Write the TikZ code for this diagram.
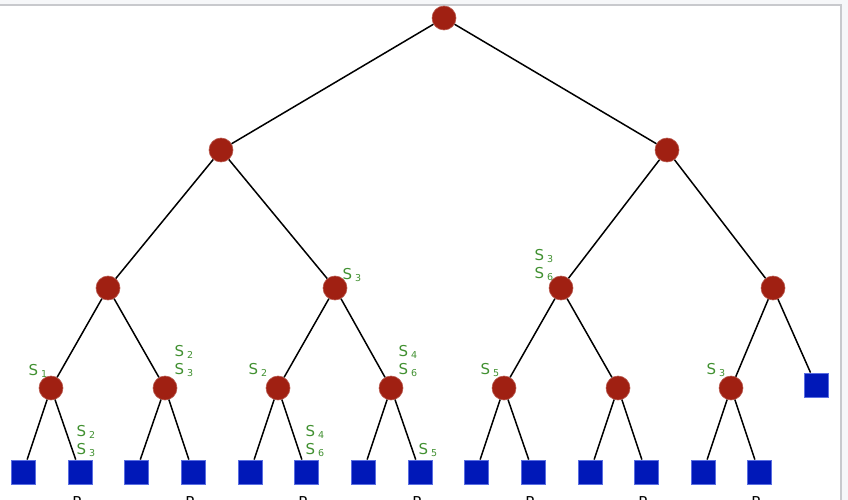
\documentclass[tikz,border=0pt]{standalone}
\usepackage{fontspec}
\setmainfont{DejaVu Sans}
\definecolor{nodered}{RGB}{160,32,18}
\definecolor{leafblue}{RGB}{0,24,184}
\definecolor{leafedge}{RGB}{90,110,225}
\definecolor{labgreen}{RGB}{66,145,50}
\definecolor{framegray}{RGB}{200,201,205}
\definecolor{pagegray}{RGB}{246,247,249}
\newcommand{\slab}[1]{S\hspace{3pt}\raisebox{-1.5pt}{\fontsize{9.5}{9.5}\selectfont #1}}

\begin{document}
\begin{tikzpicture}[x=1pt, y=-1pt,
    inner/.style={circle, fill=nodered, draw=nodered!75!white, line width=0.6pt, minimum size=24pt, inner sep=0pt},
    leaf/.style={rectangle, fill=leafblue, draw=leafedge, line width=0.8pt, minimum size=24pt, inner sep=0pt},
    edge/.style={line width=1.5pt},
    lbl/.style={text=labgreen, font=\fontsize{15}{15}\selectfont, align=left, inner sep=0pt}]

        \useasboundingbox (0,0) rectangle (848,500);
        \clip (0,0) rectangle (848,500);
        \fill[pagegray] (0,0) rectangle (848,500);
        \draw[framegray, fill=white, line width=2pt] (-10,5) rectangle (841,520);

        % inner nodes
        \node[inner] (r) at (444,18) {};
        \node[inner] (a) at (221,150) {};
        \node[inner] (b) at (667,150) {};
        \node[inner] (aa) at (108,288) {};
        \node[inner] (ab) at (335,288) {};
        \node[inner] (ba) at (561,288) {};
        \node[inner] (bb) at (773,288) {};
        \node[inner] (aaa) at (51,388) {};
        \node[inner] (aab) at (165,388) {};
        \node[inner] (aba) at (278,388) {};
        \node[inner] (abb) at (391,388) {};
        \node[inner] (baa) at (504,388) {};
        \node[inner] (bab) at (618,388) {};
        \node[inner] (bba) at (731,388) {};
        \node[leaf] (bbb) at (816,385) {};

        % leaves
        \node[leaf] (l1) at (23,472) {};
        \node[leaf] (l2) at (80,472) {};
        \node[leaf] (l3) at (136,472) {};
        \node[leaf] (l4) at (193,472) {};
        \node[leaf] (l5) at (250,472) {};
        \node[leaf] (l6) at (306,472) {};
        \node[leaf] (l7) at (363,472) {};
        \node[leaf] (l8) at (420,472) {};
        \node[leaf] (l9) at (476,472) {};
        \node[leaf] (l10) at (533,472) {};
        \node[leaf] (l11) at (590,472) {};
        \node[leaf] (l12) at (646,472) {};
        \node[leaf] (l13) at (703,472) {};
        \node[leaf] (l14) at (759,472) {};

        % edges
        \draw[edge] (r) -- (a) (r) -- (b);
        \draw[edge] (a) -- (aa) (a) -- (ab) (b) -- (ba) (b) -- (bb);
        \draw[edge] (aa) -- (aaa) (aa) -- (aab) (ab) -- (aba) (ab) -- (abb);
        \draw[edge] (ba) -- (baa) (ba) -- (bab) (bb) -- (bba) (bb) -- (bbb);
        \draw[edge] (aaa) -- (l1) (aaa) -- (l2) (aab) -- (l3) (aab) -- (l4);
        \draw[edge] (aba) -- (l5) (aba) -- (l6) (abb) -- (l7) (abb) -- (l8);
        \draw[edge] (baa) -- (l9) (baa) -- (l10) (bab) -- (l11) (bab) -- (l12);
        \draw[edge] (bba) -- (l13) (bba) -- (l14);

        % labels
        \node[lbl] (s1) at (38,371) {\slab{1}};
        \node[lbl] (s2) at (86,441) {\slab{2}\\[3pt]\slab{3}};
        \node[lbl] (s3) at (184,361) {\slab{2}\\[3pt]\slab{3}};
        \node[lbl] (s4) at (258,370) {\slab{2}};
        \node[lbl] (s5) at (315,441) {\slab{4}\\[3pt]\slab{6}};
        \node[lbl] (s6) at (352,275) {\slab{3}};
        \node[lbl] (s7) at (408,361) {\slab{4}\\[3pt]\slab{6}};
        \node[lbl] (s8) at (428,450) {\slab{5}};
        \node[lbl] (s9) at (490,370) {\slab{5}};
        \node[lbl] (s10) at (544,265) {\slab{3}\\[3pt]\slab{6}};
        \node[lbl] (s11) at (716,370) {\slab{3}};

        % cut labels
        \node[anchor=north, inner sep=0pt, font=\fontsize{15}{15}\selectfont] (p1) at (77,496) {P};
        \node[anchor=north, inner sep=0pt, font=\fontsize{15}{15}\selectfont] (p2) at (190,496) {P};
        \node[anchor=north, inner sep=0pt, font=\fontsize{15}{15}\selectfont] (p3) at (303,496) {P};
        \node[anchor=north, inner sep=0pt, font=\fontsize{15}{15}\selectfont] (p4) at (417,496) {P};
        \node[anchor=north, inner sep=0pt, font=\fontsize{15}{15}\selectfont] (p5) at (530,496) {P};
        \node[anchor=north, inner sep=0pt, font=\fontsize{15}{15}\selectfont] (p6) at (643,496) {P};
        \node[anchor=north, inner sep=0pt, font=\fontsize{15}{15}\selectfont] (p7) at (756,496) {P};

    \end{tikzpicture}
\end{document}
